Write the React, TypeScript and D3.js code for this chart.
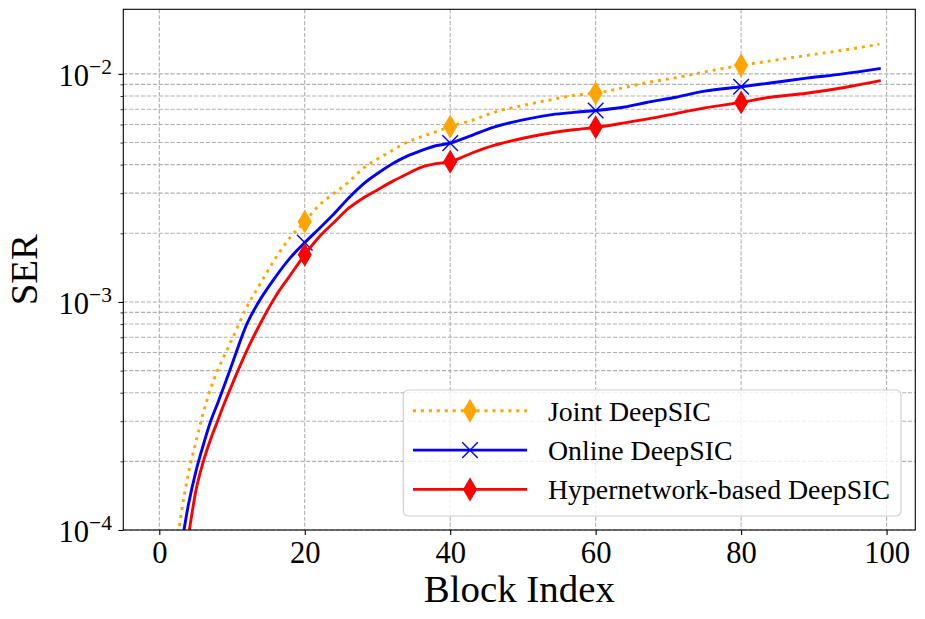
import { useEffect, useRef } from "react";
import * as d3 from "d3";

// block indices where the curves were sampled
const blockIdx = [2, 3, 4, 5, 6, 7, 8, 9, 10, 12, 14, 16, 18, 20, 22, 24, 26, 28, 30, 32, 34, 36, 38, 40, 43, 46, 50, 54, 57, 60, 64, 67, 71, 75, 80, 84, 89, 94, 99];

const jointSer = [7.0e-5, 1.17e-4, 1.77e-4, 2.41e-4, 3.22e-4, 4.12e-4, 5.0e-4, 5.86e-4, 6.86e-4, 9.46e-4, 1.22e-3, 1.56e-3, 1.92e-3, 2.25e-3, 2.66e-3, 2.99e-3, 3.35e-3, 3.85e-3, 4.24e-3, 4.61e-3, 5.0e-3, 5.3e-3, 5.57e-3, 5.88e-3, 6.26e-3, 6.78e-3, 7.27e-3, 7.72e-3, 8.05e-3, 8.23e-3, 8.72e-3, 9.15e-3, 9.62e-3, 1.02e-2, 1.09e-2, 1.14e-2, 1.205e-2, 1.27e-2, 1.35e-2];

const onlineSer = [6.0e-5, 8.5e-5, 1.29e-4, 1.79e-4, 2.33e-4, 2.96e-4, 3.58e-4, 4.36e-4, 5.33e-4, 7.95e-4, 1.04e-3, 1.29e-3, 1.56e-3, 1.82e-3, 2.1e-3, 2.43e-3, 2.85e-3, 3.28e-3, 3.66e-3, 4.03e-3, 4.35e-3, 4.61e-3, 4.84e-3, 4.97e-3, 5.38e-3, 5.84e-3, 6.29e-3, 6.63e-3, 6.78e-3, 6.91e-3, 7.16e-3, 7.49e-3, 7.9e-3, 8.4e-3, 8.78e-3, 9.12e-3, 9.58e-3, 1.0e-2, 1.055e-2];

const hyperSer = [3.5e-5, 6.0e-5, 9.4e-5, 1.47e-4, 1.97e-4, 2.47e-4, 3.0e-4, 3.63e-4, 4.34e-4, 6.09e-4, 8.17e-4, 1.06e-3, 1.31e-3, 1.61e-3, 1.93e-3, 2.23e-3, 2.57e-3, 2.85e-3, 3.1e-3, 3.37e-3, 3.63e-3, 3.89e-3, 4.04e-3, 4.12e-3, 4.5e-3, 4.86e-3, 5.22e-3, 5.52e-3, 5.69e-3, 5.83e-3, 6.1e-3, 6.33e-3, 6.7e-3, 7.1e-3, 7.5e-3, 7.9e-3, 8.23e-3, 8.7e-3, 9.32e-3];

const markerBlocks = [20, 40, 60, 80];
const xTicks = [0, 20, 40, 60, 80, 100];
const yExponents = [-4, -3, -2];
const legendNames = ["Joint DeepSIC", "Online DeepSIC", "Hypernetwork-based DeepSIC"];

const W = 925;
const H = 619;
const plot = { left: 123.3, top: 9.3, right: 915.3, bottom: 530 };
const FONT = "'Liberation Serif', 'Times New Roman', serif";

type Series = {
  name: string;
  values: number[];
  color: string;
  dash: string | null;
  marker: "diamond" | "x";
};

const series: Series[] = [
  { name: legendNames[0], values: jointSer, color: "#ffa500", dash: "3,4.95", marker: "diamond" },
  { name: legendNames[1], values: onlineSer, color: "#0000ff", dash: null, marker: "x" },
  { name: legendNames[2], values: hyperSer, color: "#ff0000", dash: null, marker: "diamond" },
];

function drawMarker(
  g: d3.Selection<SVGGElement, unknown, null, undefined>,
  kind: "diamond" | "x",
  cx: number,
  cy: number,
  color: string
) {
  if (kind === "diamond") {
    const h = 10.8;
    const w = 6.4;
    g.append("path")
      .attr("d", `M${cx},${cy - h}L${cx + w},${cy}L${cx},${cy + h}L${cx - w},${cy}Z`)
      .attr("fill", color)
      .attr("stroke", color)
      .attr("stroke-width", 1.2);
  } else {
    const r = 7.8;
    g.append("path")
      .attr("d", `M${cx - r},${cy - r}L${cx + r},${cy + r}M${cx - r},${cy + r}L${cx + r},${cy - r}`)
      .attr("fill", "none")
      .attr("stroke", color)
      .attr("stroke-width", 1.4);
  }
}

export default function App() {
  const svgRef = useRef<SVGSVGElement>(null);

  useEffect(() => {
    if (!svgRef.current) return;
    const svg = d3.select(svgRef.current);
    svg.selectAll("*").remove();

    const x = d3.scaleLinear().domain([-4.95, 103.95]).range([plot.left, plot.right]);
    const y = d3.scaleLog().domain([1e-4, 0.0192]).range([plot.bottom, plot.top]);

    const yMajor = yExponents.map((e) => Math.pow(10, e));
    const yMinor: number[] = [];
    yExponents.forEach((e) => {
      for (let k = 2; k <= 9; k++) {
        const v = k * Math.pow(10, e);
        if (v <= 0.0192) yMinor.push(v);
      }
    });

    svg.append("defs")
      .append("clipPath")
      .attr("id", "plot-clip")
      .append("rect")
      .attr("x", plot.left)
      .attr("y", plot.top)
      .attr("width", plot.right - plot.left)
      .attr("height", plot.bottom - plot.top);

    // Grid
    const grid = svg.append("g").attr("stroke", "#b0b0b0").attr("stroke-width", 1.1).attr("stroke-dasharray", "4.1,1.8");
    grid.selectAll("line.gx")
      .data(xTicks)
      .join("line")
      .attr("class", "gx")
      .attr("x1", (d) => x(d))
      .attr("x2", (d) => x(d))
      .attr("y1", plot.top)
      .attr("y2", plot.bottom);
    grid.selectAll("line.gy")
      .data([...yMajor, ...yMinor])
      .join("line")
      .attr("class", "gy")
      .attr("x1", plot.left)
      .attr("x2", plot.right)
      .attr("y1", (d) => y(d))
      .attr("y2", (d) => y(d));

    // Lines
    const lines = svg.append("g").attr("clip-path", "url(#plot-clip)");
    series.forEach((s) => {
      const line = d3
        .line<number>()
        .x((_, i) => x(blockIdx[i]))
        .y((d) => y(d))
        .curve(d3.curveMonotoneX);
      lines.append("path")
        .attr("d", line(s.values) || "")
        .attr("fill", "none")
        .attr("stroke", s.color)
        .attr("stroke-width", 2.9)
        .attr("stroke-dasharray", s.dash)
        .attr("stroke-linecap", s.dash ? "butt" : "square")
        .attr("stroke-linejoin", "round");
      markerBlocks.forEach((b) => {
        const i = blockIdx.indexOf(b);
        drawMarker(lines, s.marker, x(b), y(s.values[i]), s.color);
      });
    });

    // Frame
    svg.append("rect")
      .attr("x", plot.left)
      .attr("y", plot.top)
      .attr("width", plot.right - plot.left)
      .attr("height", plot.bottom - plot.top)
      .attr("fill", "none")
      .attr("stroke", "#000")
      .attr("stroke-width", 1.1);

    // X axis
    const xAxis = svg.append("g")
      .attr("transform", `translate(0,${plot.bottom})`)
      .call(d3.axisBottom(x).tickValues(xTicks).tickSize(4.9).tickPadding(6));
    xAxis.select(".domain").remove();
    xAxis.selectAll(".tick line").attr("stroke", "#000").attr("stroke-width", 1.1);
    xAxis.selectAll(".tick text")
      .attr("font-family", FONT)
      .attr("font-size", 30.6)
      .attr("fill", "#000")
      .attr("dy", null)
      .attr("y", 33);

    // Y axis, majors and minors
    const yAxis = svg.append("g")
      .attr("transform", `translate(${plot.left},0)`)
      .call(d3.axisLeft(y).tickValues(yMajor).tickSize(4.9).tickFormat(() => ""));
    yAxis.select(".domain").remove();
    yAxis.selectAll(".tick line").attr("stroke", "#000").attr("stroke-width", 1.1);
    const yMinorAxis = svg.append("g")
      .attr("transform", `translate(${plot.left},0)`)
      .call(d3.axisLeft(y).tickValues(yMinor).tickSize(2.8).tickFormat(() => ""));
    yMinorAxis.select(".domain").remove();
    yMinorAxis.selectAll(".tick line").attr("stroke", "#000").attr("stroke-width", 0.8);

    yExponents.forEach((e) => {
      const t = svg.append("text")
        .attr("x", 112)
        .attr("y", y(Math.pow(10, e)) + 12)
        .attr("text-anchor", "end")
        .attr("font-family", FONT)
        .attr("fill", "#000");
      t.append("tspan").attr("font-size", 30.6).text("10");
      t.append("tspan").attr("font-size", 21.5).attr("dy", -12).text(`\u2212${Math.abs(e)}`);
    });

    // Axis labels
    svg.append("text")
      .attr("x", (plot.left + plot.right) / 2)
      .attr("y", 602)
      .attr("text-anchor", "middle")
      .attr("font-family", FONT)
      .attr("font-size", 38.9)
      .text("Block Index");
    svg.append("text")
      .attr("transform", `translate(37,${(plot.top + plot.bottom) / 2}) rotate(-90)`)
      .attr("text-anchor", "middle")
      .attr("font-family", FONT)
      .attr("font-size", 38.9)
      .text("SER");

    // Legend
    const lg = svg.append("g");
    lg.append("rect")
      .attr("x", 403.3)
      .attr("y", 390)
      .attr("width", 497.7)
      .attr("height", 126)
      .attr("rx", 5)
      .attr("fill", "#fff")
      .attr("fill-opacity", 0.8)
      .attr("stroke", "#cccccc")
      .attr("stroke-width", 1.1);
    series.forEach((s, i) => {
      const cy = 410.8 + i * 39.3;
      lg.append("line")
        .attr("x1", 413)
        .attr("x2", 527)
        .attr("y1", cy)
        .attr("y2", cy)
        .attr("stroke", s.color)
        .attr("stroke-width", 2.9)
        .attr("stroke-dasharray", s.dash);
      drawMarker(lg, s.marker, 470, cy, s.color);
      lg.append("text")
        .attr("x", 548)
        .attr("y", cy + 10)
        .attr("font-family", FONT)
        .attr("font-size", 27.8)
        .attr("fill", "#000")
        .text(s.name);
    });
  }, []);

  return (
    <svg
      ref={svgRef}
      width={W}
      height={H}
      style={{ position: "absolute", left: 0, top: 0, background: "#fff" }}
    />
  );
}
